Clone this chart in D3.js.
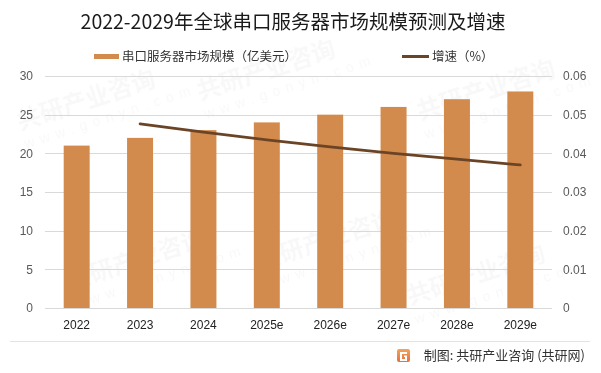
<!DOCTYPE html>
<html>
<head>
<meta charset="utf-8">
<script src="https://cdn.jsdelivr.net/npm/d3@7"></script>
<style>
  body { margin: 0; background: #fff; }
  svg { display: block; font-family: "Noto Sans CJK SC", "Liberation Sans", sans-serif; }
</style>
</head>
<body>
<svg id="chart" width="601" height="373"></svg>
<script>
// Chart data
var years = ["2022", "2023", "2024", "2025e", "2026e", "2027e", "2028e", "2029e"];
var marketSize = [21, 22, 23, 24, 25, 26, 27, 28];
var growth = [null, 0.0476, 0.0455, 0.0435, 0.0417, 0.04, 0.0385, 0.037];
var leftTicks = [0, 5, 10, 15, 20, 25, 30];
var rightTicks = [0, 0.01, 0.02, 0.03, 0.04, 0.05, 0.06];

var svg = d3.select("#chart"),
    width = +svg.attr("width"),
    height = +svg.attr("height");

var margin = {left: 45, right: 49, top: 76, bottom: 65};
var barColor = "#D38B4D",
    lineColor = "#6B4426";

// faint watermarks (drawn first so everything sits on top), kept inside the canvas
var wm = svg.append("g").attr("class", "watermark")
    .attr("fill", "#000").attr("opacity", 0.03)
    .attr("font-weight", "bold");
[[20, 130], [200, 100], [420, 120], [70, 290], [260, 270], [410, 305]]
  .forEach(function (p) {
    var g = wm.append("g").attr("transform", "translate(" + p[0] + "," + p[1] + ") rotate(-18)");
    g.append("text").attr("font-size", 24).text("共研产业咨询");
    g.append("text").attr("y", 20).attr("font-size", 14).attr("letter-spacing", 6)
      .attr("font-family", "Liberation Sans").attr("font-weight", "normal").text("www.gonyn.com");
  });

var x = d3.scaleBand()
    .domain(years)
    .range([margin.left, width - margin.right])
    .paddingInner(0.59)
    .paddingOuter(0.295);

var y = d3.scaleLinear().domain([0, 30]).range([height - margin.bottom, margin.top]);
var y2 = d3.scaleLinear().domain([0, 0.06]).range([height - margin.bottom, margin.top]);

// Gridlines
svg.append("g").attr("class", "grid")
  .selectAll("line").data(leftTicks).join("line")
    .attr("x1", margin.left).attr("x2", width - margin.right)
    .attr("y1", function (d) { return Math.round(y(d)) + 0.5; })
    .attr("y2", function (d) { return Math.round(y(d)) + 0.5; })
    .attr("stroke", "#d9d9d9").attr("stroke-width", 1);

// Left axis
var leftAxis = svg.append("g")
    .attr("transform", "translate(" + (margin.left - 12) + ",0)")
    .call(d3.axisLeft(y).tickValues(leftTicks).tickSize(0).tickPadding(0));
leftAxis.select(".domain").remove();
leftAxis.selectAll("text").attr("fill", "#595959").attr("font-size", 12)
    .attr("font-family", "Liberation Sans, sans-serif");

// Right axis
var rightAxis = svg.append("g")
    .attr("transform", "translate(" + (width - margin.right + 11) + ",0)")
    .call(d3.axisRight(y2).tickValues(rightTicks).tickSize(0).tickPadding(0)
      .tickFormat(function (d) { return d === 0 ? "0" : d3.format(".2f")(d); }));
rightAxis.select(".domain").remove();
rightAxis.selectAll("text").attr("fill", "#595959").attr("font-size", 12)
    .attr("font-family", "Liberation Sans, sans-serif");

// Bars
svg.append("g").attr("class", "bars")
  .selectAll("rect").data(marketSize).join("rect")
    .attr("x", function (d, i) { return x(years[i]); })
    .attr("y", function (d) { return y(d); })
    .attr("width", x.bandwidth())
    .attr("height", function (d) { return y(0) - y(d); })
    .attr("fill", barColor);

// Bottom axis labels
var bottomAxis = svg.append("g")
    .attr("transform", "translate(0," + (height - margin.bottom + 12) + ")")
    .call(d3.axisBottom(x).tickSize(0).tickPadding(0));
bottomAxis.select(".domain").remove();
bottomAxis.selectAll("text").attr("fill", "#222").attr("font-size", 12)
    .attr("font-family", "Liberation Sans, sans-serif");

// Growth line
var line = d3.line()
    .defined(function (d) { return d != null; })
    .x(function (d, i) { return x(years[i]) + x.bandwidth() / 2; })
    .y(function (d) { return y2(d); });

svg.append("path")
    .datum(growth)
    .attr("d", line)
    .attr("fill", "none")
    .attr("stroke", lineColor)
    .attr("stroke-width", 2.75)
    .attr("stroke-linecap", "round");

// Title
svg.append("text")
    .attr("x", 293).attr("y", 29)
    .attr("text-anchor", "middle")
    .attr("font-size", 19.5)
    .attr("fill", "#1a1a1a")
    .text("2022-2029年全球串口服务器市场规模预测及增速");

// Legend
var legend = svg.append("g").attr("class", "legend");
legend.append("rect").attr("x", 94).attr("y", 54).attr("width", 25).attr("height", 5).attr("fill", barColor);
legend.append("text").attr("x", 122).attr("y", 61).attr("font-size", 12.5).attr("fill", "#333")
    .text("串口服务器市场规模（亿美元）");
legend.append("line").attr("x1", 402).attr("x2", 429).attr("y1", 56.5).attr("y2", 56.5)
    .attr("stroke", lineColor).attr("stroke-width", 3);
legend.append("text").attr("x", 432).attr("y", 61).attr("font-size", 12.5).attr("fill", "#333")
    .text("增速（%）");

// Separator line
svg.append("line").attr("x1", 10).attr("x2", 590).attr("y1", 341.5).attr("y2", 341.5)
    .attr("stroke", "#e3e3e3").attr("stroke-width", 1);

// Footer with logo
var grad = svg.append("defs").append("linearGradient").attr("id", "logoGrad")
    .attr("x1", 0).attr("y1", 0).attr("x2", 0).attr("y2", 1);
grad.append("stop").attr("offset", "0%").attr("stop-color", "#F4A25A");
grad.append("stop").attr("offset", "100%").attr("stop-color", "#E8703A");
var logo = svg.append("g").attr("transform", "translate(397,349)");
logo.append("rect").attr("width", 13).attr("height", 13).attr("rx", 2).attr("fill", "url(#logoGrad)");
logo.append("path").attr("d", "M3,3 H10 V5 H5 V10 H8 V8 H7 V6.5 H10 V12 H3 Z").attr("fill", "#fff");
svg.append("text")
    .attr("x", 585).attr("y", 360)
    .attr("text-anchor", "end")
    .attr("font-size", 13)
    .attr("fill", "#333")
    .text("制图: 共研产业咨询 (共研网)");
</script>
</body>
</html>
